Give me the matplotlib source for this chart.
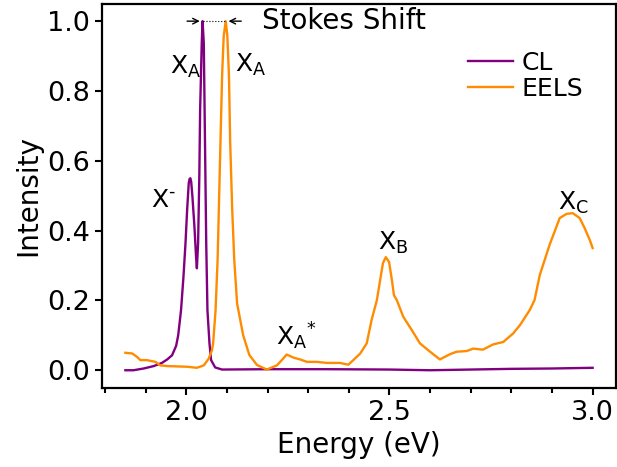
import matplotlib
matplotlib.use("Agg")
import matplotlib.pyplot as plt
from matplotlib.ticker import MultipleLocator

# CL spectrum (energy in eV, normalized intensity)
cl_energy = [1.850, 1.870, 1.895, 1.920, 1.940, 1.953, 1.965, 1.975, 1.980, 1.987,
             1.993, 1.998, 2.002, 2.006, 2.008, 2.010, 2.012, 2.015, 2.020, 2.024,
             2.026, 2.029, 2.032, 2.034, 2.038, 2.040, 2.043, 2.046, 2.049, 2.052,
             2.057, 2.061, 2.071, 2.088, 2.200, 2.350, 2.500, 2.600, 2.700, 2.800,
             2.900, 3.000]
cl_intensity = [0.000, 0.000, 0.005, 0.012, 0.021, 0.031, 0.043, 0.070, 0.100, 0.172,
                0.268, 0.364, 0.459, 0.536, 0.548, 0.550, 0.540, 0.498, 0.411, 0.325,
                0.292, 0.364, 0.555, 0.746, 0.938, 1.000, 0.938, 0.651, 0.364, 0.172,
                0.077, 0.029, 0.008, 0.002, 0.003, 0.003, 0.002, 0.000, 0.002, 0.004,
                0.005, 0.007]

# EELS spectrum
eels_energy = [1.850, 1.867, 1.879, 1.887, 1.903, 1.924, 1.936, 1.953, 1.977, 2.002,
               2.026, 2.043, 2.055, 2.063, 2.066, 2.072, 2.077, 2.080, 2.084, 2.088,
               2.092, 2.097, 2.101, 2.105, 2.108, 2.113, 2.118, 2.125, 2.140, 2.155,
               2.174, 2.198, 2.223, 2.235, 2.247, 2.264, 2.280, 2.297, 2.321, 2.346,
               2.378, 2.399, 2.411, 2.428, 2.444, 2.456, 2.469, 2.477, 2.484, 2.491,
               2.499, 2.506, 2.511, 2.518, 2.534, 2.555, 2.575, 2.600, 2.624, 2.649,
               2.665, 2.690, 2.706, 2.730, 2.755, 2.780, 2.804, 2.821, 2.845, 2.857,
               2.870, 2.894, 2.919, 2.936, 2.951, 2.968, 2.980, 2.993, 3.000]
eels_intensity = [0.050, 0.048, 0.038, 0.029, 0.029, 0.024, 0.014, 0.012, 0.011, 0.010,
                  0.007, 0.014, 0.033, 0.057, 0.077, 0.172, 0.316, 0.459, 0.651, 0.842,
                  0.957, 1.000, 0.957, 0.842, 0.651, 0.459, 0.316, 0.191, 0.100, 0.044,
                  0.015, 0.002, 0.014, 0.029, 0.045, 0.036, 0.031, 0.024, 0.024, 0.021,
                  0.021, 0.016, 0.029, 0.048, 0.077, 0.144, 0.201, 0.258, 0.307, 0.324,
                  0.310, 0.258, 0.215, 0.201, 0.153, 0.115, 0.077, 0.053, 0.031, 0.046,
                  0.053, 0.055, 0.062, 0.059, 0.074, 0.081, 0.105, 0.129, 0.172, 0.201,
                  0.273, 0.359, 0.436, 0.448, 0.450, 0.436, 0.408, 0.373, 0.350]

cl_peak = 2.040
eels_peak = 2.097

fig = plt.figure(figsize=(6.17, 4.67), dpi=100)
ax = fig.add_axes([102/617, 1-387.7/467, 514/617, 384/467])

ax.plot(cl_energy, cl_intensity, color="purple", lw=1.7, label="CL")
ax.plot(eels_energy, eels_intensity, color="darkorange", lw=1.7, label="EELS")

ax.set_xlabel("Energy (eV)", fontsize=20)
ax.set_ylabel("Intensity", fontsize=20)
ax.xaxis.set_major_locator(MultipleLocator(0.5))
ax.xaxis.set_minor_locator(MultipleLocator(0.1))
ax.yaxis.set_major_locator(MultipleLocator(0.2))
ax.tick_params(axis="both", which="major", labelsize=19.5, width=1.5, length=5)
ax.tick_params(axis="x", which="minor", width=1.5, length=3.5)
for s in ax.spines.values():
    s.set_linewidth(1.6)

# Stokes shift markers
ax.plot([cl_peak, eels_peak], [1.0, 1.0], color="black", lw=0.8, ls=":")
ax.annotate("", xy=(cl_peak, 1.0), xytext=(cl_peak - 0.045, 1.0),
            arrowprops=dict(arrowstyle="->", lw=1, color="black"))
ax.annotate("", xy=(eels_peak, 1.0), xytext=(eels_peak + 0.045, 1.0),
            arrowprops=dict(arrowstyle="->", lw=1, color="black"))
ax.text(2.187, 1.0, "Stokes Shift", fontsize=20, va="center", ha="left")

fs = 18
ax.text(1.961, 0.85, r"X$_\mathregular{A}$", fontsize=fs, va="baseline", ha="left")
ax.text(2.120, 0.855, r"X$_\mathregular{A}$", fontsize=fs, va="baseline", ha="left")
ax.text(1.912, 0.468, r"X$^{\text{-}}$", fontsize=fs, va="baseline", ha="left")
ax.text(2.221, 0.072, r"X$_\mathregular{A}{}^{*}$", fontsize=fs, va="baseline", ha="left")
ax.text(2.472, 0.345, r"X$_\mathregular{B}$", fontsize=fs, va="baseline", ha="left")
ax.text(2.914, 0.459, r"X$_\mathregular{C}$", fontsize=fs, va="baseline", ha="left")

ax.legend(loc="upper left", bbox_to_anchor=(0.693, 0.904), borderaxespad=0,
          frameon=False, fontsize=18, handlelength=1.8, handletextpad=0.32,
          labelspacing=0.1)

fig.savefig("out.png", dpi=100)
